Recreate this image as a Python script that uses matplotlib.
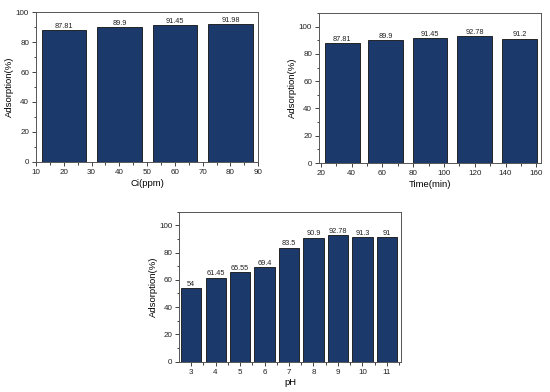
import matplotlib.pyplot as plt
from matplotlib.ticker import AutoMinorLocator, MultipleLocator

plt.rcParams["font.family"] = ["Liberation Sans", "DejaVu Sans"]

BAR_COLOR = "#1b3a6b"

ci_ppm = [20, 40, 60, 80]
ci_adsorption = [87.81, 89.9, 91.45, 91.98]
ci_labels = ["87.81", "89.9", "91.45", "91.98"]

time_min = [34, 62, 91, 120, 149]
time_adsorption = [87.81, 89.9, 91.45, 92.78, 91.2]
time_labels = ["87.81", "89.9", "91.45", "92.78", "91.2"]

ph = [3, 4, 5, 6, 7, 8, 9, 10, 11]
ph_adsorption = [54, 61.45, 65.55, 69.4, 83.5, 90.9, 92.78, 91.3, 91]
ph_labels = ["54", "61.45", "65.55", "69.4", "83.5", "90.9", "92.78", "91.3", "91"]


def draw_panel(ax, x, y, labels, width, xlabel, xlim, ylim, xstep):
    bars = ax.bar(x, y, width=width, color=BAR_COLOR, edgecolor="#111111", linewidth=0.6)
    for rect, lab in zip(bars, labels):
        ax.text(rect.get_x() + rect.get_width() / 2, rect.get_height() + 0.3, lab,
                ha="center", va="bottom", fontsize=5.3, color="#222222")
    ax.set_xlim(*xlim)
    ax.set_ylim(*ylim)
    ax.xaxis.set_major_locator(MultipleLocator(xstep))
    ax.yaxis.set_major_locator(MultipleLocator(20))
    ax.xaxis.set_minor_locator(AutoMinorLocator(2))
    ax.yaxis.set_minor_locator(AutoMinorLocator(2))
    ax.tick_params(which="both", direction="out", labelsize=5.8, width=0.6, colors="#222222")
    ax.tick_params(which="major", length=3, pad=2)
    ax.tick_params(which="minor", length=1.8)
    for sp in ax.spines.values():
        sp.set_linewidth(0.7)
        sp.set_color("#555555")
    ax.set_xlabel(xlabel, fontsize=6.8, labelpad=2)
    ax.set_ylabel("Adsorption(%)", fontsize=6.8, labelpad=1)


fig = plt.figure(figsize=(5.5, 3.92), dpi=100)

ax1 = fig.add_axes([0.0655, 0.587, 0.404, 0.382])
draw_panel(ax1, ci_ppm, ci_adsorption, ci_labels, 16, "Ci(ppm)", (10, 90), (0, 100), 10)

ax2 = fig.add_axes([0.58, 0.584, 0.4036, 0.383])
draw_panel(ax2, time_min, time_adsorption, time_labels, 22.5, "Time(min)", (18.9, 163), (0, 110), 20)

ax3 = fig.add_axes([0.326, 0.0773, 0.4025, 0.383])
draw_panel(ax3, ph, ph_adsorption, ph_labels, 0.82, "pH", (2.52, 11.56), (0, 110), 1)

fig.savefig("out.png", dpi=100)
